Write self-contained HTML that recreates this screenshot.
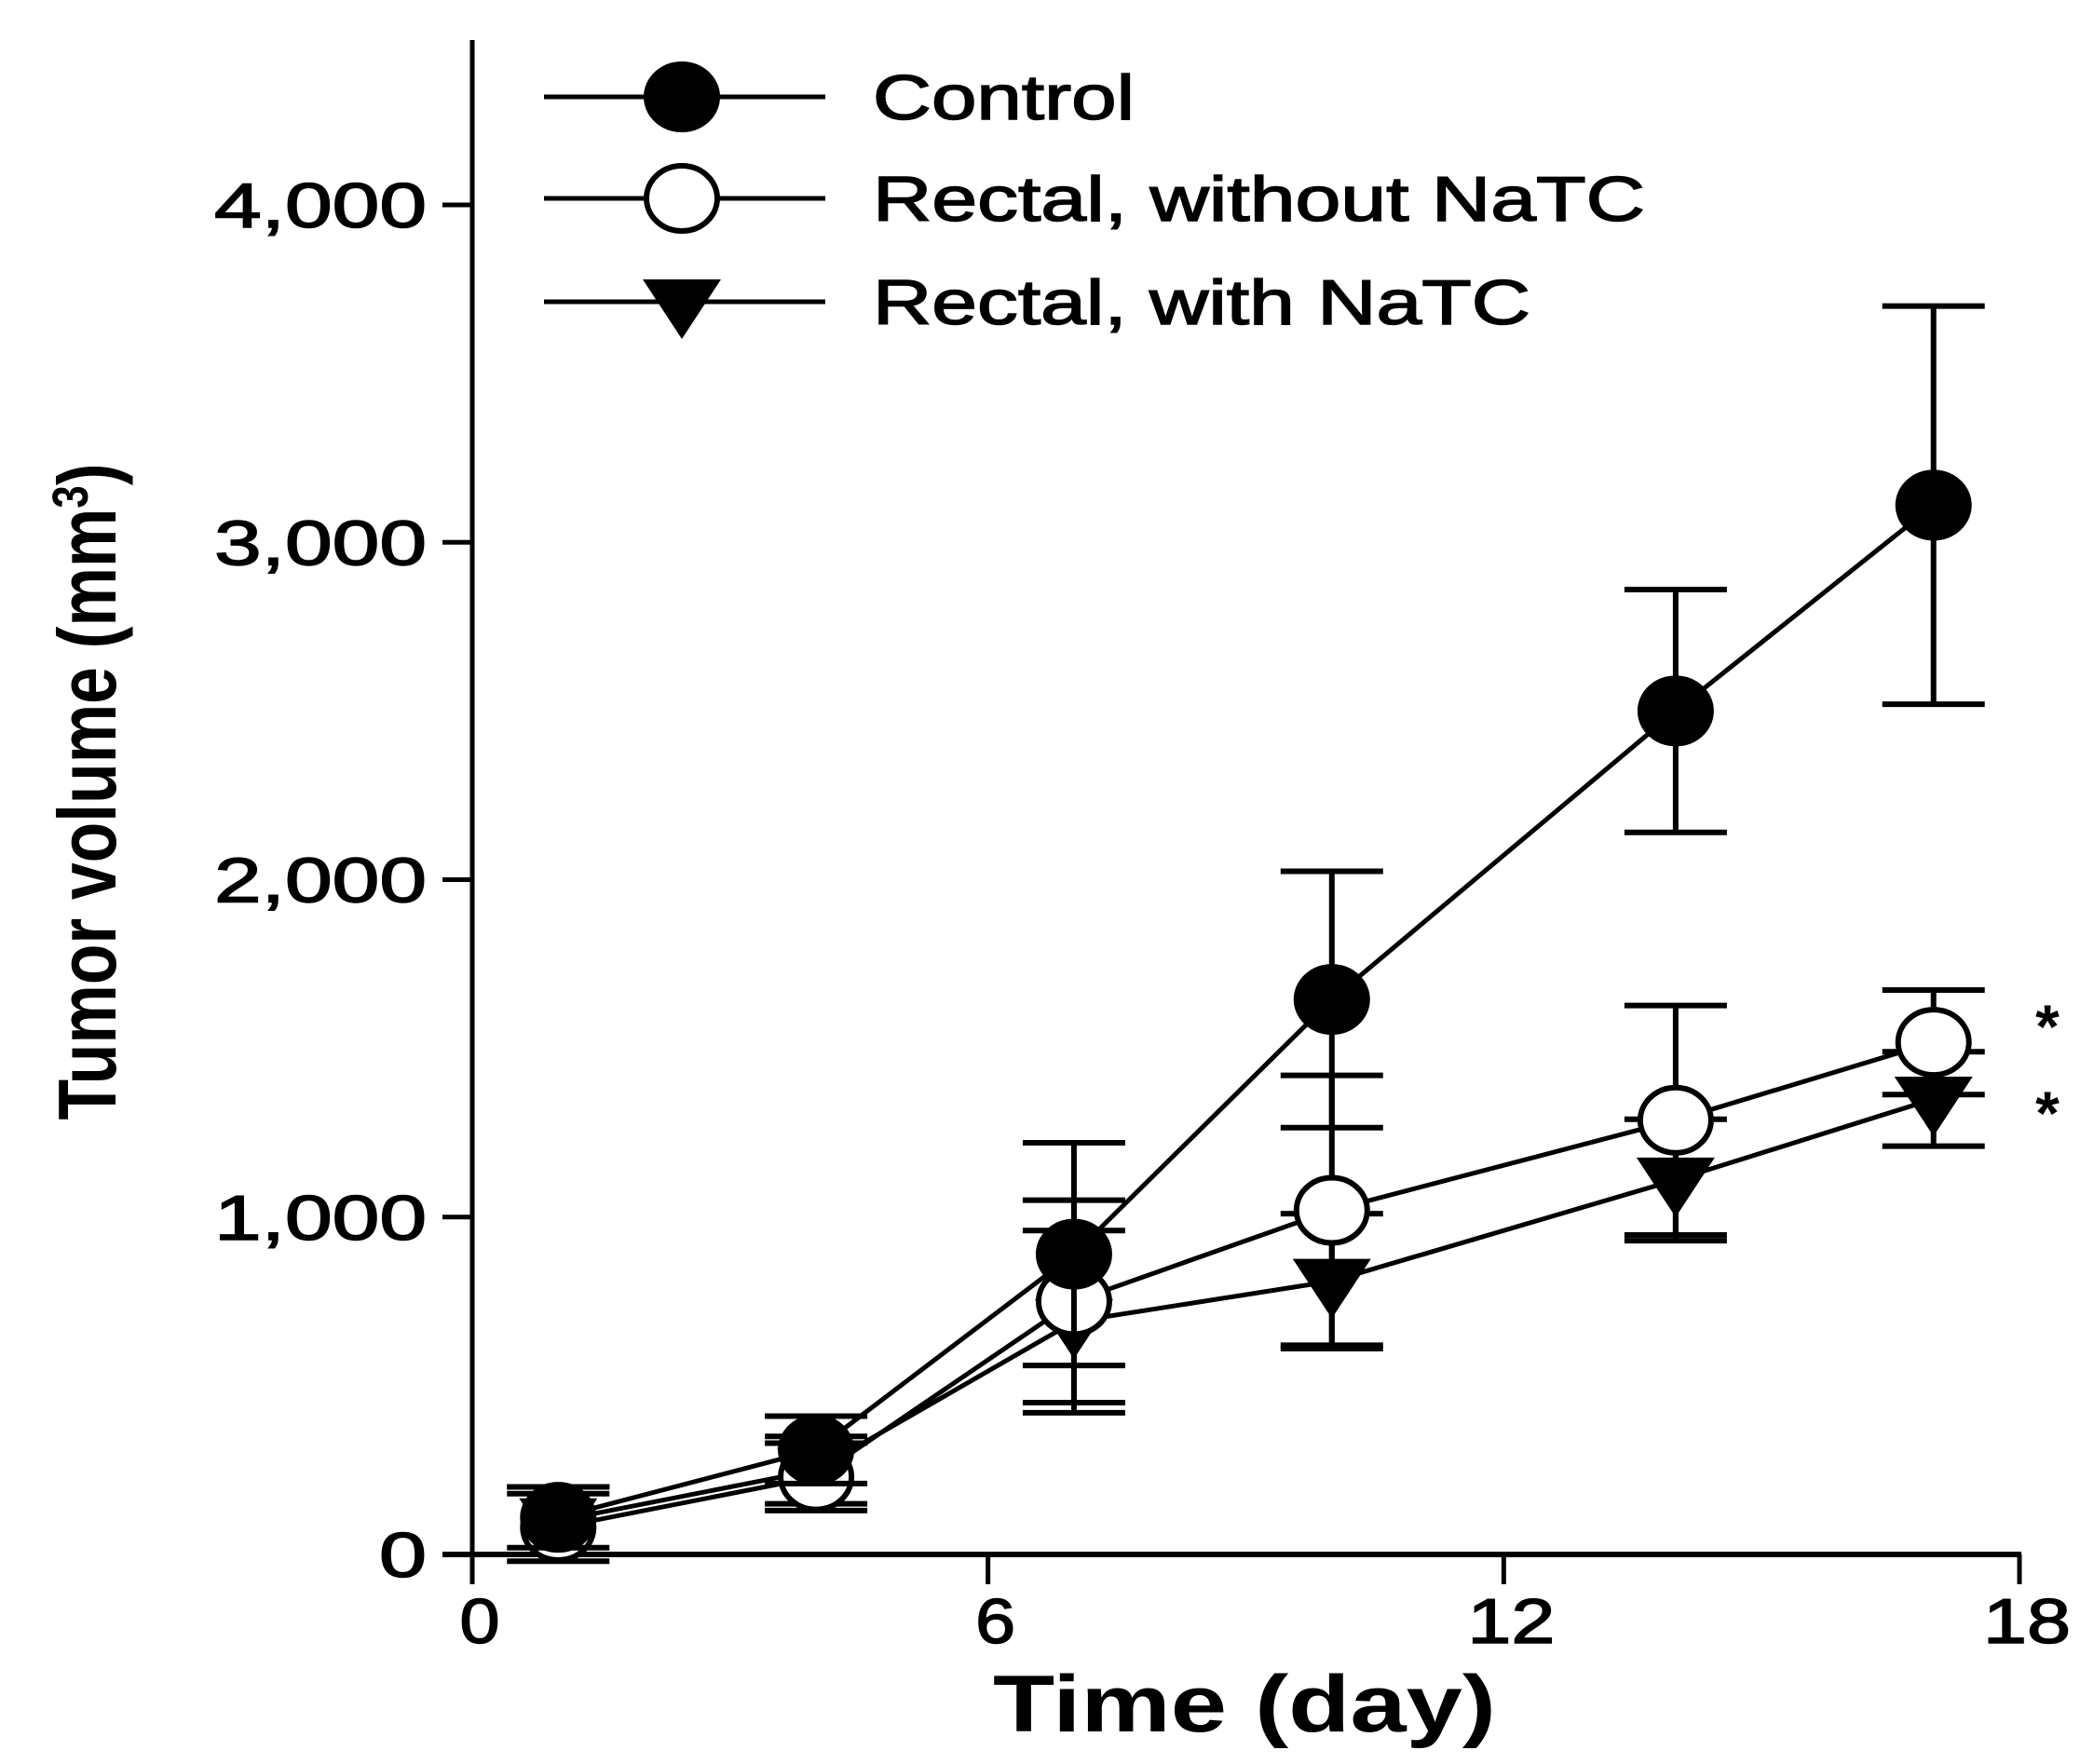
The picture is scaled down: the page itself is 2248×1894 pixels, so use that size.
<!DOCTYPE html>
<html><head><meta charset="utf-8"><style>
html,body{margin:0;padding:0;background:#fff;}
svg{display:block;font-family:"Liberation Sans",Arial,sans-serif;}
</style></head><body>
<svg id="chart" width="2248" height="1894" viewBox="0 0 2248 1894">
<g id="axes"></g>
<g id="series"></g>
<g id="legend"></g>
<text x="1336" y="1859" font-size="86" font-weight="bold" text-anchor="middle" textLength="540" lengthAdjust="spacingAndGlyphs">Time (day)</text>
<text transform="translate(124,850) rotate(-90)" font-size="88" font-weight="bold" text-anchor="middle" textLength="705" lengthAdjust="spacingAndGlyphs">Tumor volume (mm<tspan font-size="54" dy="-30">3</tspan><tspan dy="30">)</tspan></text>
<text x="2198" y="1125" font-size="66" font-weight="bold" text-anchor="middle">*</text>
<text x="2198" y="1218" font-size="66" font-weight="bold" text-anchor="middle">*</text>
</svg>
<script>
const days = [1, 4, 7, 10, 14, 17];
const controlMean = [110, 310, 890, 1645, 2500, 3110];
const controlErr = [90, 100, 330, 380, 360, 590];
const withoutMean = [80, 230, 750, 1020, 1287, 1518];
const withoutErr = [100, 100, 300, 400, 340, 155];
const withMean = [100, 250, 690, 810, 1110, 1350];
const withErr = [100, 100, 270, 200, 180, 140];
const xTicks = [0, 6, 12, 18];
const yTicks = [0, 1000, 2000, 3000, 4000];
const yTickLabels = ["0", "1,000", "2,000", "3,000", "4,000"];
const legendLabels = ["Control", "Rectal, without NaTC", "Rectal, with NaTC"];

const NS = "http://www.w3.org/2000/svg";
const X0 = 507, X1 = 2168, Y0 = 1669, Y4 = 220;
const xs = d => X0 + (d / 18) * (X1 - X0);
const ys = v => Y0 - (v / 4000) * (Y0 - Y4);
const labelLen = s => { let n = 0; for (const c of s) n += (c === ',' ? 24 : 51); return n; };
function mk(tag, attrs, parent) {
  const e = document.createElementNS(NS, tag);
  for (const k in attrs) e.setAttribute(k, attrs[k]);
  parent.appendChild(e);
  return e;
}
const axes = document.getElementById('axes');
let el = mk('line', {x1: X0, y1: 43, x2: X0, y2: Y0 + 2, stroke: '#000', 'stroke-width': 5}, axes);


el = mk('line', {x1: X0 - 32, y1: Y0, x2: X1 + 2, y2: Y0, stroke: '#000', 'stroke-width': 6}, axes);


xTicks.forEach(t => {
  const x = xs(t);
  let tk = mk('line', {x1: x, y1: Y0, x2: x, y2: Y0 + 32, stroke: '#000', 'stroke-width': 5}, axes);
  
  
  const s = String(t);
  let lb = mk('text', {x: x + 8, y: 1764, 'font-size': 68, 'text-anchor': 'middle', stroke: '#000', 'stroke-width': 1.5, textLength: labelLen(s) - 8, lengthAdjust: 'spacingAndGlyphs'}, axes);
  lb.textContent = s;
  
  
});
yTicks.forEach((t, i) => {
  const y = ys(t);
  let tk = mk('line', {x1: X0 - 32, y1: y, x2: X0, y2: y, stroke: '#000', 'stroke-width': 5}, axes);
  
  
  const s = yTickLabels[i];
  let lb = mk('text', {x: 458, y: y + 24, 'font-size': 68, 'text-anchor': 'end', stroke: '#000', 'stroke-width': 1.5, textLength: labelLen(s), lengthAdjust: 'spacingAndGlyphs'}, axes);
  lb.textContent = s;
  
  
});

function marker(type, cx, cy, g) {
  let m;
  if (type === 'filled' || type === 'open') {
    m = mk('ellipse', {cx: cx, cy: cy, rx: 38, ry: 35, fill: type === 'filled' ? '#000' : '#fff', stroke: '#000', 'stroke-width': 6}, g);
  } else {
    m = mk('polygon', {points: (cx - 42) + ',' + (cy - 24) + ' ' + (cx + 42) + ',' + (cy - 24) + ' ' + cx + ',' + (cy + 40), fill: '#000'}, g);
  }
  return m;
}
const seriesDefs = [
  {name: 'control', mean: controlMean, err: controlErr, type: 'filled'},
  {name: 'without-natc', mean: withoutMean, err: withoutErr, type: 'open'},
  {name: 'with-natc', mean: withMean, err: withErr, type: 'tri'}
];
const sg = document.getElementById('series');
seriesDefs.slice().reverse().forEach(s => {
  const g = mk('g', {}, sg);
  
  
  days.forEach((d, i) => {
    const x = xs(d), yt = ys(s.mean[i] + s.err[i]), yb = ys(s.mean[i] - s.err[i]);
    const eb = mk('path', {d: 'M' + x + ' ' + yt + 'V' + yb + 'M' + (x - 55) + ' ' + yt + 'H' + (x + 55) + 'M' + (x - 55) + ' ' + yb + 'H' + (x + 55), stroke: '#000', 'stroke-width': 6, fill: 'none'}, g);
    
    
  });
  const pl = mk('polyline', {points: days.map((d, i) => xs(d) + ',' + ys(s.mean[i])).join(' '), fill: 'none', stroke: '#000', 'stroke-width': 5}, g);
  
  
  days.forEach((d, i) => {
    const m = marker(s.type, xs(d), ys(s.mean[i]), g);
    
    
  });
});

const lg = document.getElementById('legend');
const legendY = [104, 213, 324];
const legendLen = [281, 829, 706];
seriesDefs.forEach((s, i) => {
  const g = mk('g', {}, lg);
  
  
  const y = legendY[i];
  mk('line', {x1: 584, y1: y, x2: 886, y2: y, stroke: '#000', 'stroke-width': 5}, g);
  marker(s.type, 732, y, g);
  const t = mk('text', {x: 937, y: y + 24, 'font-size': 68, stroke: '#000', 'stroke-width': 1.5, textLength: legendLen[i], lengthAdjust: 'spacingAndGlyphs'}, g);
  t.textContent = legendLabels[i];
  
  
});
</script>
</body></html>
